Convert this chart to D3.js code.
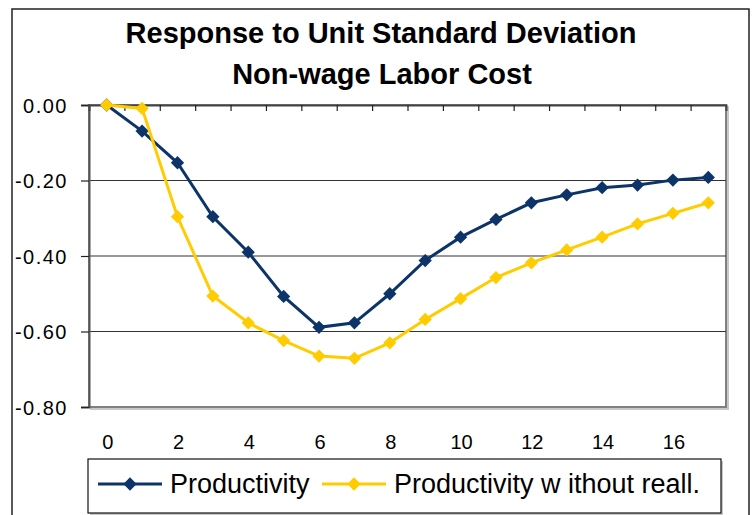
<!DOCTYPE html>
<meta charset="utf-8">
<html>
<head>
  <title>Response to Unit Standard Deviation Non-wage Labor Cost</title>
  <script src="https://cdn.jsdelivr.net/npm/d3@7"></script>
  <style>
    body { margin: 0; background: #fff; }
    svg { font-family: "Liberation Sans", Arial, sans-serif; }
    .ylab { font-size: 20px; letter-spacing: 1.5px; }
    .xlab { font-size: 20px; }
    .legtext { font-size: 27px; }
    .title { font-size: 29px; font-weight: bold; }
  </style>
</head>
<body>
  <svg id="svg" width="754" height="515"></svg>

  <script>
    // periods after the shock
    var periods = d3.range(0, 18);

    // Productivity response
    var productivity = [0, -0.069, -0.153, -0.296, -0.390, -0.507, -0.589, -0.577, -0.500,
      -0.412, -0.350, -0.303, -0.259, -0.238, -0.219, -0.212, -0.199, -0.192];

    // Productivity response without reallocation
    var withoutReall = [0, -0.009, -0.296, -0.506, -0.577, -0.624, -0.665, -0.671, -0.630,
      -0.568, -0.513, -0.457, -0.418, -0.384, -0.350, -0.315, -0.287, -0.259];

    var yTicks = [0, -0.2, -0.4, -0.6, -0.8];
    var xLabels = [0, 2, 4, 6, 8, 10, 12, 14, 16];

    var seriesNames = ["Productivity", "Productivity w ithout reall."];
    var colors = ["#0c3468", "#ffcc00"];

    var svg = d3.select("#svg");

    // plot area edges (don't call these top/left, window.top is read-only)
    var pLeft = 89, pRight = 726, pTop = 105, pBottom = 407;

    var x = d3.scaleLinear().domain([-0.5, 17.5]).range([pLeft, pRight]);
    var y = d3.scaleLinear().domain([0, -0.8]).range([pTop, pBottom]);

    // outer chart frame
    svg.append("rect")
      .attr("x", 12).attr("y", 9)
      .attr("width", 737).attr("height", 530)
      .attr("fill", "none")
      .attr("stroke", "#222")
      .attr("stroke-width", 1.5);

    // title
    var title = svg.append("text")
      .attr("class", "title")
      .attr("text-anchor", "middle");
    title.append("tspan").attr("x", 381).attr("y", 43).text("Response to Unit Standard Deviation");
    title.append("tspan").attr("x", 382).attr("y", 84).text("Non-wage Labor Cost");

    // plot area shadow + border
    svg.append("rect")
      .attr("x", pLeft + 2).attr("y", pTop + 2)
      .attr("width", pRight - pLeft).attr("height", pBottom - pTop)
      .attr("fill", "none")
      .attr("stroke", "#c8c8c8")
      .attr("stroke-width", 2);
    svg.append("rect")
      .attr("x", pLeft).attr("y", pTop)
      .attr("width", pRight - pLeft).attr("height", pBottom - pTop)
      .attr("fill", "#fff")
      .attr("stroke", "#808080")
      .attr("stroke-width", 2);

    // gridlines
    svg.append("g")
      .selectAll("line")
      .data(yTicks.slice(1, 4))
      .enter()
      .append("line")
      .attr("x1", pLeft).attr("x2", pRight)
      .attr("y1", function (d) { return y(d); })
      .attr("y2", function (d) { return y(d); })
      .attr("stroke", "#333")
      .attr("stroke-width", 1.2);

    // y axis
    var yAxis = svg.append("g")
      .attr("transform", "translate(" + pLeft + ",0)")
      .call(d3.axisLeft(y).tickValues(yTicks).tickSize(8).tickPadding(13));
    yAxis.select(".domain").attr("stroke", "#555").attr("stroke-width", 2);
    yAxis.selectAll(".tick line").attr("stroke", "#222").attr("stroke-width", 1.2);
    yAxis.selectAll("text")
      .attr("class", "ylab")
      .attr("fill", "#000")
      .attr("dy", "0.35em")
      .text(function (d) { return d === 0 ? "0.00" : "-" + Math.abs(d).toFixed(2); });
    yAxis.attr("font-size", null).attr("font-family", null);

    // x axis line at zero with category boundary ticks pointing down
    var boundaries = d3.range(0, 17).map(function (i) { return i + 0.5; });
    var xAxis = svg.append("g")
      .attr("transform", "translate(0," + pTop + ")")
      .call(d3.axisBottom(x).tickValues(boundaries).tickSize(6).tickFormat(""));
    xAxis.select(".domain").attr("stroke", "#444").attr("stroke-width", 2);
    xAxis.selectAll(".tick line").attr("stroke", "#222").attr("stroke-width", 1.2);

    // x labels below the plot
    svg.append("g")
      .selectAll("text")
      .data(xLabels)
      .enter()
      .append("text")
      .attr("class", "xlab")
      .attr("text-anchor", "middle")
      .attr("x", function (d) { return x(d) + 1; })
      .attr("y", 449)
      .text(function (d) { return d; });

    // lines and markers
    var line = d3.line()
      .x(function (d, i) { return x(periods[i]); })
      .y(function (d) { return y(d); });

    var diamond = d3.symbol().type(d3.symbolSquare).size(88);

    [productivity, withoutReall].forEach(function (series, k) {
      var g = svg.append("g");
      g.append("path")
        .datum(series)
        .attr("fill", "none")
        .attr("stroke", colors[k])
        .attr("stroke-width", 3)
        .attr("d", line);
      g.selectAll("path.mark")
        .data(series)
        .enter()
        .append("path")
        .attr("class", "mark")
        .attr("d", diamond)
        .attr("fill", colors[k])
        .attr("transform", function (d, i) {
          return "translate(" + x(periods[i]) + "," + y(d) + ") rotate(45)";
        });
    });

    // legend
    svg.append("rect")
      .attr("x", 90).attr("y", 461)
      .attr("width", 633).attr("height", 54)
      .attr("fill", "#c8c8c8");
    svg.append("rect")
      .attr("x", 88).attr("y", 459)
      .attr("width", 633).attr("height", 54)
      .attr("fill", "#fff")
      .attr("stroke", "#111")
      .attr("stroke-width", 1.2);

    var legendX = [98, 322];
    seriesNames.forEach(function (name, k) {
      var lg = svg.append("g").attr("transform", "translate(" + legendX[k] + ",484)");
      lg.append("line")
        .attr("x1", 0).attr("x2", 64)
        .attr("stroke", colors[k])
        .attr("stroke-width", 3);
      lg.append("path")
        .attr("d", diamond)
        .attr("fill", colors[k])
        .attr("transform", "translate(32,0) rotate(45)");
      lg.append("text")
        .attr("class", "legtext")
        .attr("x", 72)
        .attr("y", 9)
        .text(name);
    });
  </script>
</body>
</html>
